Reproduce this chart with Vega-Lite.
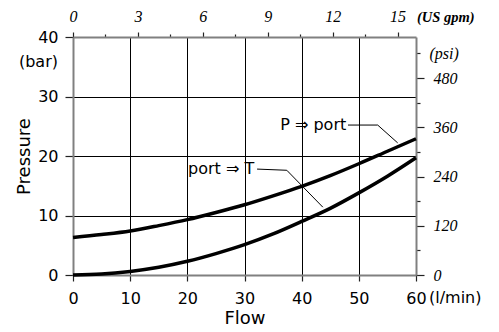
{
  "$schema": "https://vega.github.io/schema/vega-lite/v6.json",
  "width": 343,
  "height": 238,
  "autosize": {"type": "none"},
  "padding": {"left": 73, "top": 37, "right": 83, "bottom": 57},
  "background": "white",
  "config": {"view": {"stroke": null}, "axis": {"labelOverlap": false, "labelFlush": false, "labelBound": false}},
  "layer": [
    {
      "layer": [
        {
          "data": {"values": [
            {"series": "P-port", "flow": 0, "pressure": 6.3},
            {"series": "P-port", "flow": 5, "pressure": 6.8},
            {"series": "P-port", "flow": 10, "pressure": 7.4},
            {"series": "P-port", "flow": 15, "pressure": 8.3},
            {"series": "P-port", "flow": 20, "pressure": 9.3},
            {"series": "P-port", "flow": 25, "pressure": 10.5},
            {"series": "P-port", "flow": 30, "pressure": 11.8},
            {"series": "P-port", "flow": 35, "pressure": 13.3},
            {"series": "P-port", "flow": 40, "pressure": 14.9},
            {"series": "P-port", "flow": 45, "pressure": 16.7},
            {"series": "P-port", "flow": 50, "pressure": 18.7},
            {"series": "P-port", "flow": 55, "pressure": 20.8},
            {"series": "P-port", "flow": 60, "pressure": 22.9},
            {"series": "port-T", "flow": 0, "pressure": 0},
            {"series": "port-T", "flow": 5, "pressure": 0.15},
            {"series": "port-T", "flow": 10, "pressure": 0.6},
            {"series": "port-T", "flow": 15, "pressure": 1.3},
            {"series": "port-T", "flow": 20, "pressure": 2.3},
            {"series": "port-T", "flow": 25, "pressure": 3.6},
            {"series": "port-T", "flow": 30, "pressure": 5.1},
            {"series": "port-T", "flow": 35, "pressure": 6.9},
            {"series": "port-T", "flow": 40, "pressure": 9.0},
            {"series": "port-T", "flow": 45, "pressure": 11.2},
            {"series": "port-T", "flow": 50, "pressure": 13.8},
            {"series": "port-T", "flow": 55, "pressure": 16.6},
            {"series": "port-T", "flow": 60, "pressure": 19.7}
          ]},
          "mark": {"type": "line", "color": "black", "strokeWidth": 3.5, "interpolate": "monotone"},
          "encoding": {
            "x": {
              "field": "flow", "type": "quantitative",
              "scale": {"domain": [0, 60], "nice": false, "zero": false},
              "axis": {
                "orient": "bottom",
                "values": [0, 5, 10, 15, 20, 25, 30, 35, 40, 45, 50, 55, 60],
                "labelExpr": "datum.value % 10 == 0 ? datum.label : ''",
                "tickSize": {"condition": {"test": "datum.value % 10 == 0", "value": 6}, "value": -5},
                "tickColor": "#222",
                "tickWidth": 1.2,
                "grid": true,
                "gridColor": "black",
                "gridWidth": 1,
                "gridOpacity": {"condition": {"test": "datum.value % 10 == 0 && datum.value > 0 && datum.value < 60", "value": 1}, "value": 0},
                "domainColor": "#808080",
                "domainWidth": 2,
                "labelFont": "DejaVu Sans",
                "labelFontSize": 16,
                "labelColor": "black",
                "labelPadding": 9,
                "title": "Flow",
                "titleFont": "DejaVu Sans",
                "titleFontSize": 18,
                "titleFontWeight": "normal",
                "titleColor": "black",
                "titlePadding": 3
              }
            },
            "y": {
              "field": "pressure", "type": "quantitative",
              "scale": {"domain": [0, 40], "nice": false, "zero": false},
              "axis": {
                "orient": "left",
                "values": [0, 5, 10, 15, 20, 25, 30, 35, 40],
                "labelExpr": "datum.value % 10 == 0 ? datum.label : ''",
                "tickSize": {"condition": {"test": "datum.value % 10 == 0", "value": 8}, "value": 3},
                "tickColor": "#222",
                "tickWidth": 1.2,
                "grid": true,
                "gridColor": "black",
                "gridWidth": 1,
                "gridOpacity": {"condition": {"test": "datum.value % 10 == 0 && datum.value > 0 && datum.value < 40", "value": 1}, "value": 0},
                "domainColor": "#808080",
                "domainWidth": 2,
                "labelFont": "DejaVu Sans",
                "labelFontSize": 16,
                "labelColor": "black",
                "labelPadding": 7,
                "title": "Pressure",
                "titleFont": "DejaVu Sans",
                "titleFontSize": 18,
                "titleFontWeight": "normal",
                "titleColor": "black",
                "titlePadding": 4
              }
            },
            "detail": {"field": "series"}
          }
        },
        {
          "data": {"values": [
            {"id": "a", "flow": 48.1, "pressure": 25.2},
            {"id": "a", "flow": 53.3, "pressure": 25.2},
            {"id": "a", "flow": 56.8, "pressure": 22.2},
            {"id": "b", "flow": 32.2, "pressure": 17.8},
            {"id": "b", "flow": 37.4, "pressure": 17.6},
            {"id": "b", "flow": 43.7, "pressure": 11.4}
          ]},
          "mark": {"type": "line", "color": "black", "strokeWidth": 1},
          "encoding": {
            "x": {"field": "flow", "type": "quantitative"},
            "y": {"field": "pressure", "type": "quantitative"},
            "detail": {"field": "id"}
          }
        },
        {
          "data": {"values": [
            {"label": "P ⇒ port", "flow": 47.8, "pressure": 25.2},
            {"label": "port ⇒ T", "flow": 31.7, "pressure": 17.8}
          ]},
          "mark": {"type": "text", "align": "right", "baseline": "middle", "font": "DejaVu Sans", "fontSize": 16, "color": "black"},
          "encoding": {
            "x": {"field": "flow", "type": "quantitative"},
            "y": {"field": "pressure", "type": "quantitative"},
            "text": {"field": "label"}
          }
        },
        {
          "data": {"values": [
            {"label": "(l/min)", "flow": 60, "pressure": 0}
          ]},
          "mark": {"type": "text", "align": "left", "baseline": "middle", "font": "DejaVu Sans", "fontSize": 16, "color": "black", "dx": 13, "dy": 23},
          "encoding": {
            "x": {"field": "flow", "type": "quantitative"},
            "y": {"field": "pressure", "type": "quantitative"},
            "text": {"field": "label"}
          }
        },
        {
          "data": {"values": [
            {"label": "(bar)", "flow": 0, "pressure": 35}
          ]},
          "mark": {"type": "text", "align": "right", "baseline": "alphabetic", "font": "DejaVu Sans", "fontSize": 16, "color": "black", "dx": -15, "dy": 0},
          "encoding": {
            "x": {"field": "flow", "type": "quantitative"},
            "y": {"field": "pressure", "type": "quantitative"},
            "text": {"field": "label"}
          }
        },
        {
          "data": {"values": [
            {"label": "(US gpm)", "flow": 60, "pressure": 40}
          ]},
          "mark": {"type": "text", "align": "left", "baseline": "middle", "font": "Liberation Serif", "fontStyle": "italic", "fontWeight": "bold", "fontSize": 14.5, "color": "black", "dx": 1, "dy": -19},
          "encoding": {
            "x": {"field": "flow", "type": "quantitative"},
            "y": {"field": "pressure", "type": "quantitative"},
            "text": {"field": "label"}
          }
        }
      ]
    },
    {
      "data": {"values": [{"gpm": 0, "psi": 0}]},
      "mark": {"type": "point", "opacity": 0},
      "encoding": {
        "x": {
          "field": "gpm", "type": "quantitative",
          "scale": {"domain": [0, 15.8503], "nice": false, "zero": false},
          "axis": {
            "orient": "top",
            "values": [0, 1.5, 3, 4.5, 6, 7.5, 9, 10.5, 12, 13.5, 15],
            "labelExpr": "datum.value % 3 == 0 ? datum.label : ''",
            "tickSize": {"condition": {"test": "datum.value % 3 == 0", "value": 5}, "value": 3},
            "tickColor": "#222",
            "tickWidth": 1.2,
            "grid": false,
            "domainColor": "#808080",
            "domainWidth": 2,
            "labelFont": "Liberation Serif",
            "labelFontStyle": "italic",
            "labelFontSize": 16,
            "labelColor": "black",
            "labelPadding": 8,
            "title": null
          }
        },
        "y": {
          "field": "psi", "type": "quantitative",
          "scale": {"domain": [0, 580.151], "nice": false, "zero": false},
          "axis": {
            "orient": "right",
            "values": [0, 60, 120, 180, 240, 300, 360, 420, 480, 540],
            "labelExpr": "datum.value % 120 == 0 ? datum.label : (datum.value == 540 ? '(psi)' : '')",
            "tickSize": {"condition": {"test": "datum.value % 120 == 0", "value": 8}, "value": 4},
            "tickColor": "#222",
            "tickWidth": 1.2,
            "grid": false,
            "domainColor": "#808080",
            "domainWidth": 2,
            "labelFont": "Liberation Serif",
            "labelFontStyle": "italic",
            "labelFontSize": 16,
            "labelColor": "black",
            "labelAlign": "left",
            "labelPadding": 9,
            "title": null
          }
        }
      }
    }
  ],
  "resolve": {"scale": {"x": "independent", "y": "independent"}}
}
